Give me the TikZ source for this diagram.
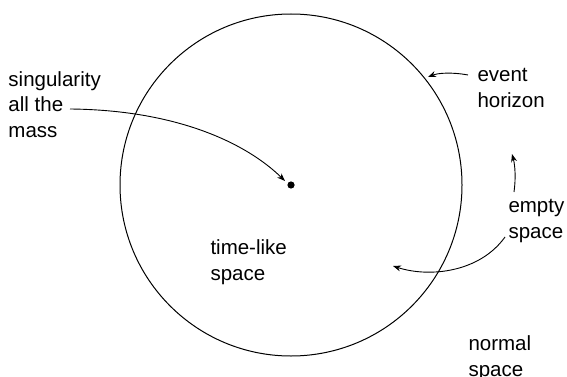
\documentclass[tikz,border=0pt]{standalone}
\usepackage{fontspec}
\setmainfont{Liberation Sans}
\usetikzlibrary{arrows.meta}
\begin{document}
\begin{tikzpicture}[x=1pt,y=-1pt,
  lbl/.style={anchor=base west,inner sep=0pt,align=left,font=\fontsize{20.5}{25.5}\selectfont},
  arr/.style={line width=0.9pt,-{Stealth[length=8pt,width=6pt]}},
  line width=1pt]
\useasboundingbox (0,0) rectangle (567,377);
% event horizon
\node[draw,circle,minimum size=342pt,inner sep=0pt,line width=1pt] (hor) at (291,185) {};
\fill (291,185) circle (3.6pt);
\coordinate (dot) at (291,185);
% labels (anchor = baseline of last line)
\node[lbl] (sing) at (8,137) {singularity\\all the\\mass};
\node[lbl] (ev) at (477,107) {event\\horizon};
\node[lbl] (emp) at (508,238) {empty\\space};
\node[lbl] (tl) at (210,280) {time-like\\space};
\node[lbl] (norm) at (468,376) {normal\\space};
% arrow endpoints
\coordinate (s0) at (70,109);
\coordinate (s1) at (285,181);
\coordinate (e0) at (468,75);
\coordinate (e1) at (428,77);
\coordinate (m0) at (514,192);
\coordinate (m1) at (512,154);
\coordinate (p0) at (505,237);
\coordinate (p1) at (393,266);
% arrows
\draw[arr] (s0) .. controls (175,110) and (245,142) .. (s1);
\draw[arr] (e0) .. controls (452,72) and (438,73) .. (e1);
\draw[arr] (m0) .. controls (516,178) and (515,165) .. (m1);
\draw[arr] (p0) .. controls (480,272) and (430,278) .. (p1);
\end{tikzpicture}
\end{document}
